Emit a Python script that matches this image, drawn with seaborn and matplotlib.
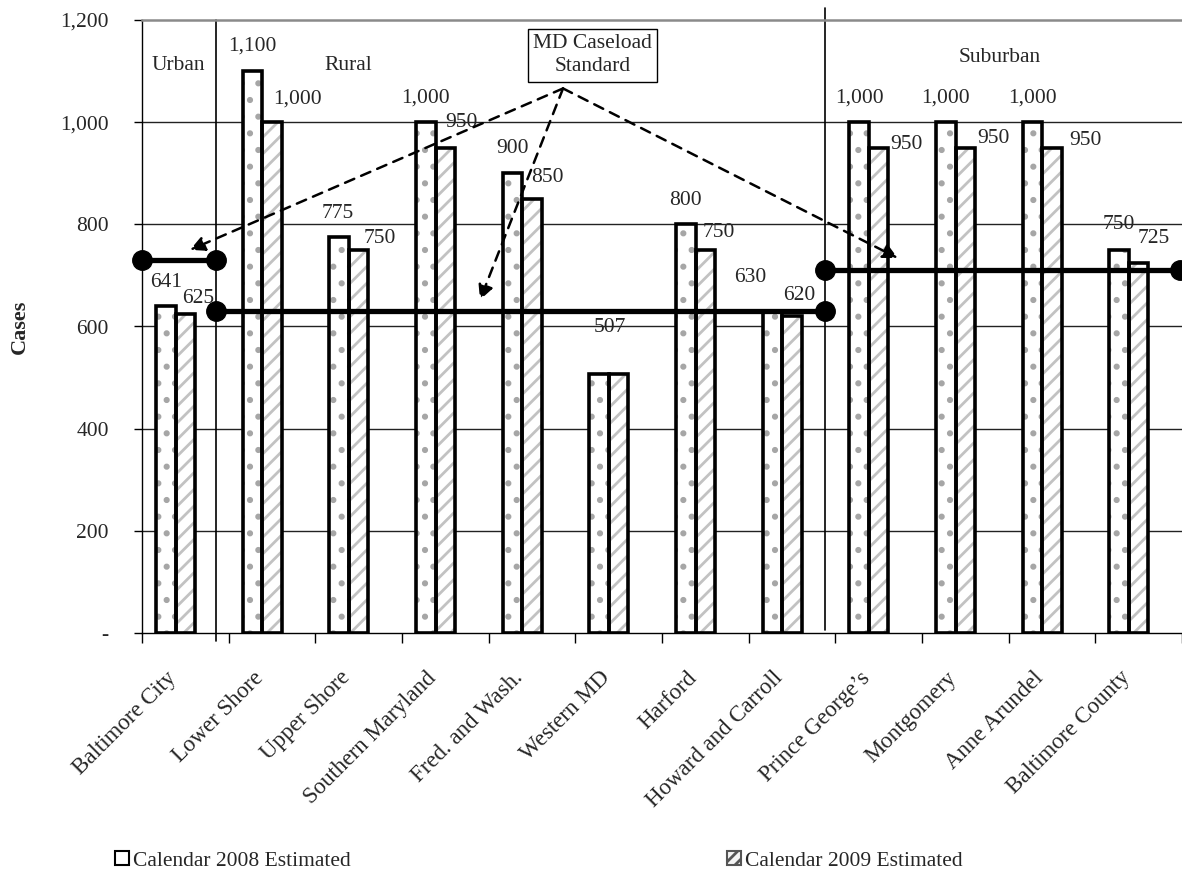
import numpy as np
import pandas as pd
import matplotlib
matplotlib.use("Agg")
import matplotlib.pyplot as plt
import matplotlib.transforms as mtransforms
from matplotlib.patches import Patch
import seaborn as sns

# --- data -------------------------------------------------------------
regions = ["Baltimore City", "Lower Shore", "Upper Shore", "Southern Maryland",
           "Fred. and Wash.", "Western MD", "Harford", "Howard and Carroll",
           "Prince George\u2019s", "Montgomery", "Anne Arundel", "Baltimore County"]
cal_2008 = [641, 1100, 775, 1000, 900, 507, 800, 630, 1000, 1000, 1000, 750]
cal_2009 = [625, 1000, 750, 950, 850, 507, 750, 620, 950, 950, 950, 725]
series_names = ["Calendar 2008 Estimated", "Calendar 2009 Estimated"]

group_names = ["Urban", "Rural", "Suburban"]
caseload_standard = [730, 630, 710]
y_ticks = [0, 200, 400, 600, 800, 1000, 1200]

# --- layout helpers ---------------------------------------------------
# pixel offsets (dx, dy-up) of each value label from the top of its bar;
# None where the two equal values share one label
shift_2008 = [(0, 23), (0, 25), (-1, 24), (0, 24), (0, 25), None,
              (0, 24), (-22, 34), (0, 24), (0, 24), (0, 24), (0, 25)]
shift_2009 = [(13, 15), (25, 23), (21, 11), (16, 25), (15, 21), (-9, 47),
              (13, 17), (7, 21), (28, 3), (28, 9), (33, 7), (15, 24)]

# group extents along the category axis
group_spans = [(-0.5, 0.35), (0.35, 7.38), (7.38, 11.48)]

sns.set_theme(style="white")
plt.rcParams["font.family"] = ["Liberation Serif", "DejaVu Serif"]
plt.rcParams["hatch.linewidth"] = 2.0

n = len(regions)
# bars sit left of centre, leaving an empty slot on the right of each cluster
pos = np.arange(n) - 0.1125
df = pd.DataFrame({
    "pos": np.concatenate([pos, pos]),
    "cases": cal_2008 + cal_2009,
    "series": [series_names[0]] * n + [series_names[1]] * n,
})

fig = plt.figure(figsize=(11.82, 8.94), dpi=100)
ax = fig.add_axes([142 / 1182, 261 / 894, 1040 / 1182, 613 / 894])

# horizontal grid
for v in y_ticks[1:-1]:
    ax.axhline(v, color="#222222", lw=1.0, zorder=0)

# fill layer with hatching
sns.barplot(data=df, x="pos", y="cases", hue="series", hue_order=series_names,
            native_scale=True, width=0.45, palette=["white", "white"],
            legend=False, ax=ax, errorbar=None, zorder=2)
hatch_styles = [(".", "#a6a6a6"), ("//", "#c2c2c2")]
for cont, (h, c) in zip(ax.containers, hatch_styles):
    for bar in cont:
        bar.set_hatch(h)
        bar.set_edgecolor(c)
        bar.set_linewidth(0)

# outline layer
sns.barplot(data=df, x="pos", y="cases", hue="series", hue_order=series_names,
            native_scale=True, width=0.45, palette=["black", "black"],
            fill=False, linewidth=2.6, legend=False, ax=ax, errorbar=None,
            zorder=3)

# value labels
bar_w = 0.225
for i in range(n):
    for vals, shifts, dxc in ((cal_2008, shift_2008, -bar_w), (cal_2009, shift_2009, 0.0)):
        if shifts[i] is None:
            continue
        dx, dy = shifts[i]
        ax.annotate(f"{vals[i]:,}", xy=(i + dxc, vals[i]), xytext=(dx, dy),
                    textcoords="offset pixels", ha="center", va="center",
                    fontsize=15.5, zorder=6)

# group separators
ax.plot([0.35, 0.35], [-15, 1200], color="black", lw=1.2, clip_on=False, zorder=1)
ax.plot([7.38, 7.38], [5, 1224], color="black", lw=1.2, clip_on=False, zorder=1)

# caseload standard lines
for (x0, x1), v in zip(group_spans, caseload_standard):
    ax.plot([x0, x1], [v, v], "-o", color="black", lw=3.8, ms=14,
            clip_on=False, zorder=5)

# group names
ax.text(-0.085, 1110, group_names[0], ha="center", va="center", fontsize=15.5)
ax.text(1.877, 1110, group_names[1], ha="center", va="center", fontsize=15.5)
ax.text(9.4, 1127, group_names[2], ha="center", va="center", fontsize=15.5)

# callout box and arrows
ax.text(4.698, 1131, "MD Caseload\nStandard", ha="center", va="center",
        fontsize=15.5, linespacing=1.3, zorder=7,
        bbox=dict(boxstyle="square,pad=0.25", fc="white", ec="black", lw=1.0))
origin = (4.358, 1066)
targets = [(0.054, 750), (3.40, 652), (8.22, 734)]
for t in targets:
    ax.annotate("", xy=t, xytext=origin,
                arrowprops=dict(arrowstyle="-|>", linestyle=(0, (4, 3)), lw=1.8,
                                color="black", mutation_scale=22,
                                shrinkA=0, shrinkB=0),
                zorder=6)

# axes
ax.set_xlim(-0.5, 11.5)
ax.set_ylim(0, 1200)
ax.set_yticks(y_ticks)
ax.set_yticklabels(["-" if v == 0 else f"{v:,}" for v in y_ticks], fontsize=15.5)
ax.set_xticks(np.arange(n))
ax.set_xticklabels(regions, fontsize=16.5, rotation=45, ha="right", va="center",
                   rotation_mode="anchor")
ax.set_xticks(np.arange(n + 1) - 0.5, minor=True)
ax.tick_params(axis="x", which="major", length=0, pad=30)
ax.tick_params(axis="x", which="minor", length=7, width=1, color="black",
               direction="out", bottom=True)
ax.tick_params(axis="y", length=6, width=1, color="black", direction="out",
               left=True, pad=18)
shift = mtransforms.ScaledTranslation(-12 / 100, 0, fig.dpi_scale_trans)
for lbl in ax.get_xticklabels():
    lbl.set_transform(lbl.get_transform() + shift)
ax.set_xlabel("")
ax.set_ylabel("Cases", fontsize=16, fontweight="bold", labelpad=22)

for side in ("left", "bottom"):
    ax.spines[side].set_color("black")
    ax.spines[side].set_linewidth(1.0)
ax.spines["top"].set_color("#8a8a8a")
ax.spines["top"].set_linewidth(1.8)
ax.spines["right"].set_visible(False)

# legend
handles = [Patch(facecolor="white", edgecolor="black", lw=1.5),
           Patch(facecolor="#f4f4f4", edgecolor="#555555", lw=1.5, hatch="///")]
for h, name, xa in zip(handles, series_names, (115 / 1182, 727 / 1182)):
    fig.legend([h], [name], loc="center left", bbox_to_anchor=(xa, 1 - 861 / 894),
               frameon=False, fontsize=15.5, handlelength=0.65,
               handleheight=0.65, handletextpad=0.2, borderaxespad=0,
               borderpad=0)

fig.savefig("out.png", dpi=100)
